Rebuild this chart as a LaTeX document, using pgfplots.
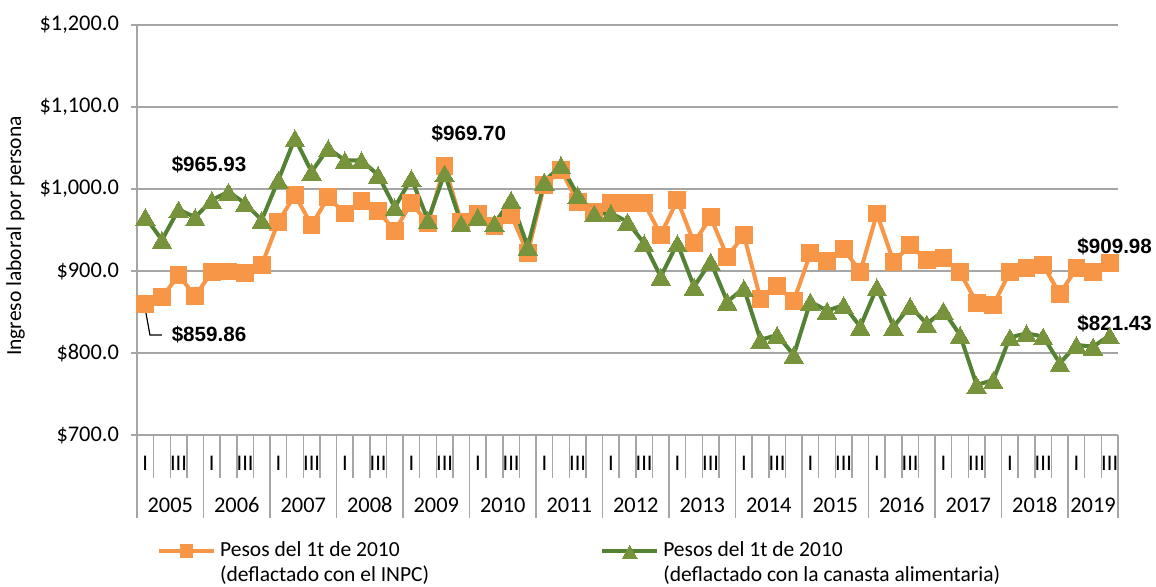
\documentclass[border=0pt]{standalone}
\usepackage{fontspec}
\setmainfont{Carlito}
\newfontfamily\labelfont{Liberation Sans}
\usepackage{pgfplots}
\pgfplotsset{compat=1.18}

\definecolor{inpc}{HTML}{F79646}
\definecolor{canline}{HTML}{548235}
\definecolor{canmark}{HTML}{77933C}
\definecolor{gridgray}{HTML}{A6A6A6}

\begin{document}
\fontsize{10.75}{12.4}\selectfont
\begin{tikzpicture}
\path[use as bounding box] (-68.5pt,-76pt) rectangle (509.5pt,217.5pt);
\begin{axis}[
    at={(0,0)}, anchor=south west,
    width=490.5pt, height=205pt, scale only axis,
    xmin=-0.5, xmax=58.5,
    ymin=700, ymax=1200,
    axis x line*=bottom, axis y line*=left,
    axis line style={gridgray, line width=0.9pt},
    xtick=\empty,
    ytick={700,800,...,1200},
    ymajorgrids,
    grid style={gridgray, line width=0.9pt},
    tick align=center, major tick length=5.5pt,
    tick style={gridgray, line width=0.9pt},
    tick label style={font=\fontsize{11.2}{13}\selectfont},
    yticklabel style={xshift=-2.5pt},
    yticklabel={\$\pgfmathprintnumber[fixed,fixed zerofill,precision=1,1000 sep={,},assume math mode=true]{\tick}},
    ylabel={Ingreso laboral por persona},
    ylabel style={xshift=-3pt},
    label style={font=\fontsize{10.75}{12}\selectfont},
    clip=false,
    legend columns=2,
    legend style={draw=none, fill=none, at={(rel axis cs:0.014,-0.24)}, anchor=north west,
        cells={align=left, anchor=west}, font=\fontsize{10.75}{12.2}\selectfont,
        /tikz/every even column/.append style={column sep=83.5pt}},
    legend image code/.code={\draw[#1, mark repeat=2, mark phase=2, yshift=6pt,
        every mark/.append style={scale=0.75}]
        plot coordinates {(0pt,0pt) (13.75pt,0pt) (27.5pt,0pt)};},
]

% deflactado con el INPC
\addplot[inpc, line width=2pt, mark=square*, mark size=4.2pt,
    mark options={fill=inpc, draw=inpc, line width=0pt}] coordinates {
(0,859.86) (1,868) (2,895) (3,869.5) (4,899) (5,899.5) (6,898) (7,907)
(8,960) (9,992.7) (10,956) (11,989.9) (12,970) (13,985) (14,973.5) (15,948.8)
(16,983.3) (17,958) (18,1028) (19,960) (20,970) (21,955) (22,968.3) (23,921.5)
(24,1005) (25,1023) (26,984.5) (27,972) (28,983.3) (29,983) (30,983) (31,944)
(32,986.6) (33,934.5) (34,965.5) (35,917.4) (36,944) (37,865.5) (38,881.7) (39,863.4)
(40,921.5) (41,912.2) (42,926.8) (43,899) (44,970) (45,911.4) (46,931.7) (47,913.4)
(48,915.5) (49,898.4) (50,861.4) (51,858.5) (52,899) (53,903.3) (54,907.3) (55,872)
(56,903.3) (57,899) (58,909.98)
};
\addlegendentry{Pesos del 1t de 2010\\(deflactado con el INPC)}

% deflactado con la canasta alimentaria
\addplot[canline, line width=2pt, mark=triangle*, mark size=5.6pt,
    mark options={fill=canmark, draw=canmark, line width=0pt, yshift=-1.4pt}] coordinates {
(0,965.93) (1,937.8) (2,975) (3,965.5) (4,986.6) (5,996.7) (6,982.5) (7,962)
(8,1011) (9,1061.8) (10,1021) (11,1049.6) (12,1035) (13,1035) (14,1017) (15,977.6)
(16,1013) (17,962) (18,1019) (19,958) (20,966) (21,958) (22,986.6) (23,929.7)
(24,1009) (25,1029) (26,992.7) (27,970) (28,970.7) (29,960) (30,933.7) (31,893)
(32,933.7) (33,880.9) (34,911.4) (35,862.6) (36,879) (37,816) (38,822) (39,797.6)
(40,862.6) (41,851.6) (42,858.5) (43,832) (44,880) (45,832) (46,857.3) (47,835.4)
(48,851.6) (49,822) (50,761) (51,767) (52,819) (53,824) (54,820) (55,787.4)
(56,809.8) (57,807.7) (58,821.43)
};
\addlegendentry{Pesos del 1t de 2010\\(deflactado con la canasta alimentaria)}

% category axis: quarters and years
\pgfplotsinvokeforeach{-0.5,0.5,...,58.5}{
  \draw[gridgray, line width=0.75pt] (axis cs:#1,700) -- ++(0pt,-21.5pt);
}
\pgfplotsinvokeforeach{-0.5,3.5,...,55.5}{
  \draw[gridgray, line width=0.75pt] (axis cs:#1,700) -- ++(0pt,-41.5pt);
}
\draw[gridgray, line width=0.75pt] (axis cs:58.5,700) -- ++(0pt,-41.5pt);
\pgfplotsinvokeforeach{0,4,...,56}{
  \node[font=\fontsize{11.2}{13}\selectfont] at (axis cs:#1,700) [yshift=-14pt] {I};
}
\pgfplotsinvokeforeach{2,6,...,58}{
  \node[font=\fontsize{11.2}{13}\selectfont] at (axis cs:#1,700) [yshift=-14pt] {III};
}
\begin{scope}[every node/.style={font=\fontsize{11.2}{13}\selectfont, yshift=-35pt}]
\node at (axis cs:1.5,700) {2005};
\node at (axis cs:5.5,700) {2006};
\node at (axis cs:9.5,700) {2007};
\node at (axis cs:13.5,700) {2008};
\node at (axis cs:17.5,700) {2009};
\node at (axis cs:21.5,700) {2010};
\node at (axis cs:25.5,700) {2011};
\node at (axis cs:29.5,700) {2012};
\node at (axis cs:33.5,700) {2013};
\node at (axis cs:37.5,700) {2014};
\node at (axis cs:41.5,700) {2015};
\node at (axis cs:45.5,700) {2016};
\node at (axis cs:49.5,700) {2017};
\node at (axis cs:53.5,700) {2018};
\node at (axis cs:57,700) {2019};
\end{scope}

% data labels
\begin{scope}[every node/.style={font=\labelfont\bfseries\fontsize{10.3}{12}\selectfont}]
\node at (axis cs:3.83,1029.3) {\$965.93};
\node at (axis cs:3.83,822) {\$859.86};
\node at (axis cs:19.46,1067.9) {\$969.70};
\node at (axis cs:58.3,929.7) {\$909.98};
\node at (axis cs:58.3,836) {\$821.43};
\end{scope}
\draw[black, line width=0.6pt] (axis cs:0,853) -- (axis cs:0.28,822) -- (axis cs:1.0,822);

\end{axis}
\end{tikzpicture}
\end{document}
